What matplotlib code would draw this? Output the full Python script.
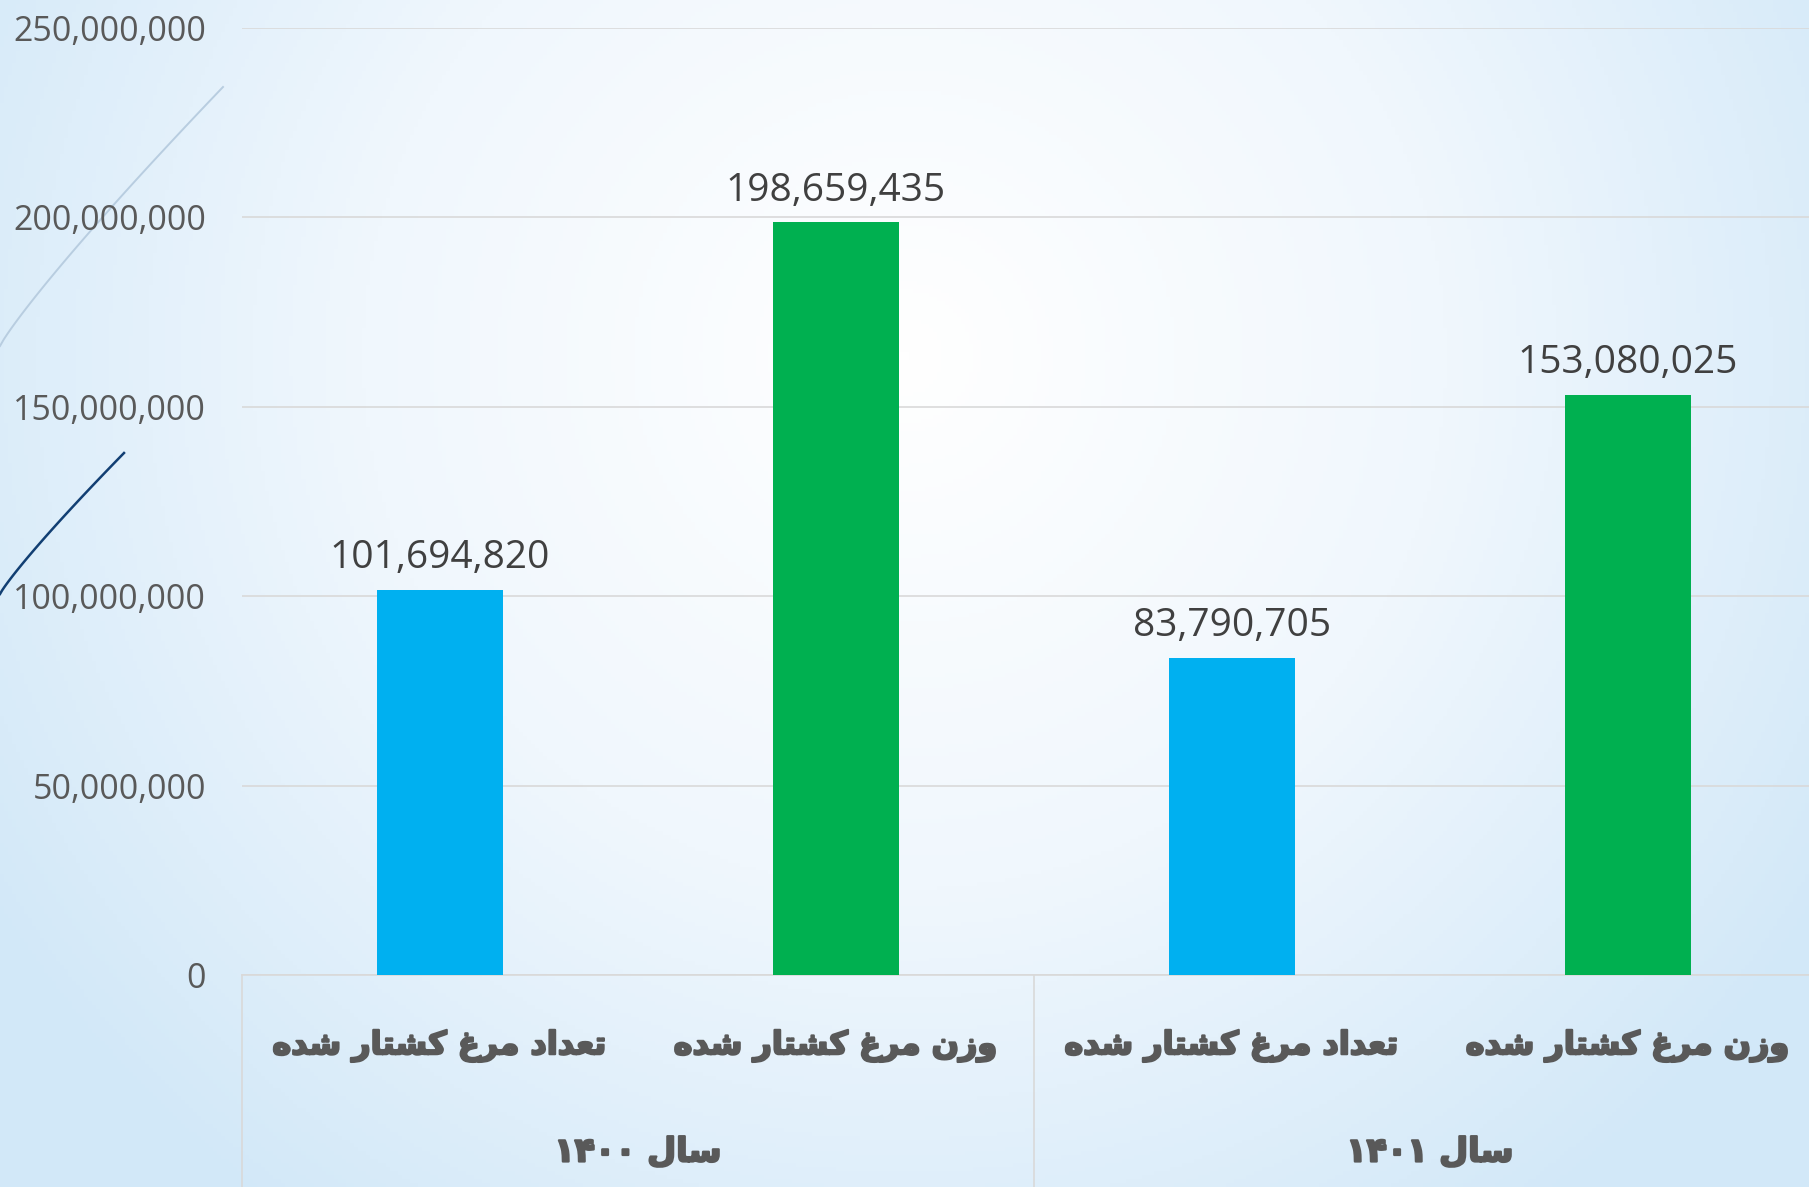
import numpy as np
import matplotlib.pyplot as plt
import matplotlib.patheffects as pe
from matplotlib.ticker import FuncFormatter
from matplotlib.colors import LinearSegmentedColormap

# chart data
categories = ['تعداد مرغ کشتار شده', 'وزن مرغ کشتار شده',
              'تعداد مرغ کشتار شده', 'وزن مرغ کشتار شده']
groups = ['سال ۱۴۰۰', 'سال ۱۴۰۱']
values = [101694820, 198659435, 83790705, 153080025]
bar_colors = ['#00B0F0', '#00B050', '#00B0F0', '#00B050']
yticks = [0, 50000000, 100000000, 150000000, 200000000, 250000000]

# matplotlib has no Arabic shaping, so pick presentation forms by hand
# letter: (isolated, final, initial, medial)
FORMS = {
    'ا': ('\uFE8D', '\uFE8E', None, None),
    'ت': ('\uFE95', '\uFE96', '\uFE97', '\uFE98'),
    'د': ('\uFEA9', '\uFEAA', None, None),
    'ر': ('\uFEAD', '\uFEAE', None, None),
    'ز': ('\uFEAF', '\uFEB0', None, None),
    'س': ('\uFEB1', '\uFEB2', '\uFEB3', '\uFEB4'),
    'ش': ('\uFEB5', '\uFEB6', '\uFEB7', '\uFEB8'),
    'ع': ('\uFEC9', '\uFECA', '\uFECB', '\uFECC'),
    'غ': ('\uFECD', '\uFECE', '\uFECF', '\uFED0'),
    'ل': ('\uFEDD', '\uFEDE', '\uFEDF', '\uFEE0'),
    'م': ('\uFEE1', '\uFEE2', '\uFEE3', '\uFEE4'),
    'ن': ('\uFEE5', '\uFEE6', '\uFEE7', '\uFEE8'),
    'ه': ('\uFEE9', '\uFEEA', '\uFEEB', '\uFEEC'),
    'و': ('\uFEED', '\uFEEE', None, None),
    'ک': ('\uFB8E', '\uFB8F', '\uFB90', '\uFB91'),
}


def shape_word(word):
    out = []
    for i, ch in enumerate(word):
        if ch not in FORMS:
            out.append(ch)
            continue
        prev = word[i - 1] if i > 0 else None
        nxt = word[i + 1] if i < len(word) - 1 else None
        join_prev = prev in FORMS and FORMS[prev][2] is not None
        join_next = nxt in FORMS and FORMS[ch][2] is not None
        iso, fin, ini, med = FORMS[ch]
        if join_prev and join_next:
            out.append(med)
        elif join_prev:
            out.append(fin)
        elif join_next:
            out.append(ini)
        else:
            out.append(iso)
    shaped = ''.join(out)
    if any(c in FORMS for c in word):
        shaped = shaped[::-1]
    return shaped


def rtl(text):
    return ' '.join(shape_word(w) for w in text.split(' ')[::-1])


W, H = 1809, 1187
fig = plt.figure(figsize=(W / 100, H / 100), dpi=100)

# background gradient
bg = fig.add_axes([0, 0, 1, 1], zorder=-10)
yy, xx = np.mgrid[0:1:300j, 0:1:450j]
d = np.sqrt(((xx - 0.5) / 0.6) ** 2 + ((yy - 0.3) / 0.9) ** 2)
bg_cmap = LinearSegmentedColormap.from_list('bg', ['#ffffff', '#f0f7fd', '#d2e8f8'])
bg.imshow(np.clip(d, 0, 1), cmap=bg_cmap, aspect='auto', extent=[0, 1, 0, 1],
          origin='upper', vmin=0, vmax=1)
bg.axis('off')

# decorative curves on the left
t = np.linspace(0, 1, 60)
bg.plot(t * 223 / W, 1 - (346 - 259 * (t ** 0.9)) / H, color='#b8cde0', lw=1.4)
bg.plot(t * 124 / W, 1 - (594 - 141 * (t ** 0.9)) / H, color='#123f73', lw=1.8)

ax = fig.add_axes([242 / W, 212 / H, 1584 / W, 947.3 / H])
ax.patch.set_alpha(0)

x = np.arange(len(values))
bars = ax.bar(x, values, width=0.316, color=bar_colors, zorder=3)

ax.set_xlim(-0.5, len(values) - 0.5)
ax.set_ylim(0, 250000000)
ax.set_yticks(yticks)
ax.yaxis.set_major_formatter(FuncFormatter(lambda v, p: f'{int(v):,}'))
ax.tick_params(axis='y', length=0, pad=26, labelsize=24.5, labelcolor='#595959')
for lab in ax.get_yticklabels():
    lab.set_family('Open Sans')
ax.set_xticks([])
ax.grid(axis='y', color='#d9d9d9', lw=1.2, zorder=0)

for side in ['top', 'right', 'left']:
    ax.spines[side].set_visible(False)
ax.spines['bottom'].set_color('#d9d9d9')
ax.spines['bottom'].set_linewidth(1.2)

for rect, v in zip(bars, values):
    ax.annotate(f'{v:,}', (rect.get_x() + rect.get_width() / 2, v),
                xytext=(0, 9), textcoords='offset points',
                ha='center', va='bottom', fontsize=28, color='#404040',
                family='Open Sans')

# multi-level category axis
thick = [pe.withStroke(linewidth=1.6, foreground='#595959')]
trans = ax.get_xaxis_transform()
for i, cat in enumerate(categories):
    ax.text(i, -71 / 947.3, rtl(cat), transform=trans, ha='center', va='center',
            fontsize=23, fontweight='bold', color='#595959', family='DejaVu Sans',
            path_effects=thick)
for g, name in enumerate(groups):
    ax.text(2 * g + 0.5, -177 / 947.3, rtl(name), transform=trans, ha='center',
            va='center', fontsize=24, fontweight='bold', color='#595959',
            family='DejaVu Sans', path_effects=thick)
for xs in [-0.5, 1.5, 3.5]:
    ax.plot([xs, xs], [0, -0.25], transform=trans, color='#d9d9d9', lw=1.2,
            clip_on=False)

fig.savefig('out.png', dpi=100)
